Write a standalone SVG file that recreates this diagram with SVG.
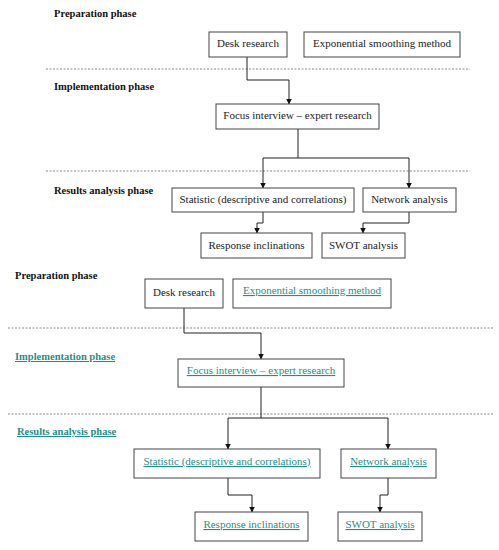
<svg xmlns="http://www.w3.org/2000/svg" width="499" height="550" viewBox="0 0 499 550">
<defs>
<marker id="arr" markerWidth="6" markerHeight="6" refX="5.5" refY="3" orient="auto" markerUnits="userSpaceOnUse">
<path d="M0,0 L6,3 L0,6 Z" fill="#111"/>
</marker>
<style>
.box{fill:#fff;stroke:#444;stroke-width:1}
.t{font-family:"Liberation Serif","Times New Roman",serif;font-size:11px;fill:#222;text-anchor:middle}
.l{fill:#1f8f8a;text-decoration:underline}
.h{font-family:"Liberation Serif","Times New Roman",serif;font-size:10.5px;font-weight:bold;fill:#111}
.hl{fill:#1f8f8a;text-decoration:underline}
.dot{stroke:#888;stroke-width:1;stroke-dasharray:2,1.5;fill:none}
.c{stroke:#222;stroke-width:1;fill:none}
</style>
</defs>
<rect width="499" height="550" fill="#fff"/>

<g id="dividers">
<line class="dot" x1="46" y1="69" x2="470" y2="69"/>
<line class="dot" x1="46" y1="171" x2="470" y2="171"/>
<line class="dot" x1="8" y1="328" x2="493" y2="328"/>
<line class="dot" x1="8" y1="414" x2="493" y2="414"/>
</g>

<g id="headings">
<text class="h" x="54" y="17">Preparation phase</text>
<text class="h" x="54" y="90">Implementation phase</text>
<text class="h" x="54" y="194">Results analysis phase</text>
<text class="h" x="15" y="279">Preparation phase</text>
<text class="h hl" x="15" y="360">Implementation phase</text>
<text class="h hl" x="17" y="435">Results analysis phase</text>
</g>

<g id="connectors">
<polyline class="c" points="247,57 247,80 289,80 289,104" marker-end="url(#arr)"/>
<line class="c" x1="298" y1="129" x2="298" y2="158" stroke-width="1.6"/>
<polyline class="c" points="298,158 263,158 263,188" marker-end="url(#arr)"/>
<polyline class="c" points="298,158 409,158 409,188" marker-end="url(#arr)"/>
<polyline class="c" points="263,212 263,223 257,223 257,233" marker-end="url(#arr)"/>
<polyline class="c" points="409,212 409,223 363,223 363,233" marker-end="url(#arr)"/>

<polyline class="c" points="184,308 184,333 261,333 261,359" marker-end="url(#arr)"/>
<line class="c" x1="261" y1="387" x2="261" y2="418"/>
<polyline class="c" points="261,418 228,418 228,449" marker-end="url(#arr)"/>
<polyline class="c" points="261,418 388,418 388,449" marker-end="url(#arr)"/>
<polyline class="c" points="228,478 228,495 252,495 252,512" marker-end="url(#arr)"/>
<polyline class="c" points="388,478 388,495 380,495 380,512" marker-end="url(#arr)"/>
</g>

<g id="top-desk"><rect class="box" x="209" y="32" width="78" height="25"/><text class="t" x="248" y="47">Desk research</text></g>
<g id="top-exp"><rect class="box" x="304" y="32" width="156" height="25"/><text class="t" x="382" y="47">Exponential smoothing method</text></g>
<g id="top-focus"><rect class="box" x="216" y="104" width="163" height="25"/><text class="t" x="297.5" y="119">Focus interview – expert research</text></g>
<g id="top-stat"><rect class="box" x="172" y="188" width="182" height="24"/><text class="t" x="263" y="203">Statistic (descriptive and correlations)</text></g>
<g id="top-net"><rect class="box" x="363" y="188" width="93" height="24"/><text class="t" x="409.5" y="203">Network analysis</text></g>
<g id="top-resp"><rect class="box" x="201" y="233" width="111" height="25"/><text class="t" x="256.5" y="249">Response inclinations</text></g>
<g id="top-swot"><rect class="box" x="322" y="233" width="83" height="25"/><text class="t" x="363.5" y="249">SWOT analysis</text></g>

<g id="bot-desk"><rect class="box" x="145" y="279" width="78" height="29"/><text class="t" x="184" y="296">Desk research</text></g>
<g id="bot-exp"><rect class="box" x="233" y="279" width="158" height="29"/><text class="t l" x="312" y="294">Exponential smoothing method</text></g>
<g id="bot-focus"><rect class="box" x="178" y="359" width="166" height="28"/><text class="t l" x="261" y="374">Focus interview – expert research</text></g>
<g id="bot-stat"><rect class="box" x="134" y="449" width="186" height="29"/><text class="t l" x="227" y="465">Statistic (descriptive and correlations)</text></g>
<g id="bot-net"><rect class="box" x="341" y="449" width="95" height="29"/><text class="t l" x="388.5" y="465">Network analysis</text></g>
<g id="bot-resp"><rect class="box" x="195" y="512" width="113" height="29"/><text class="t l" x="251.5" y="528">Response inclinations</text></g>
<g id="bot-swot"><rect class="box" x="338" y="512" width="84" height="29"/><text class="t l" x="380" y="528">SWOT analysis</text></g>
</svg>
